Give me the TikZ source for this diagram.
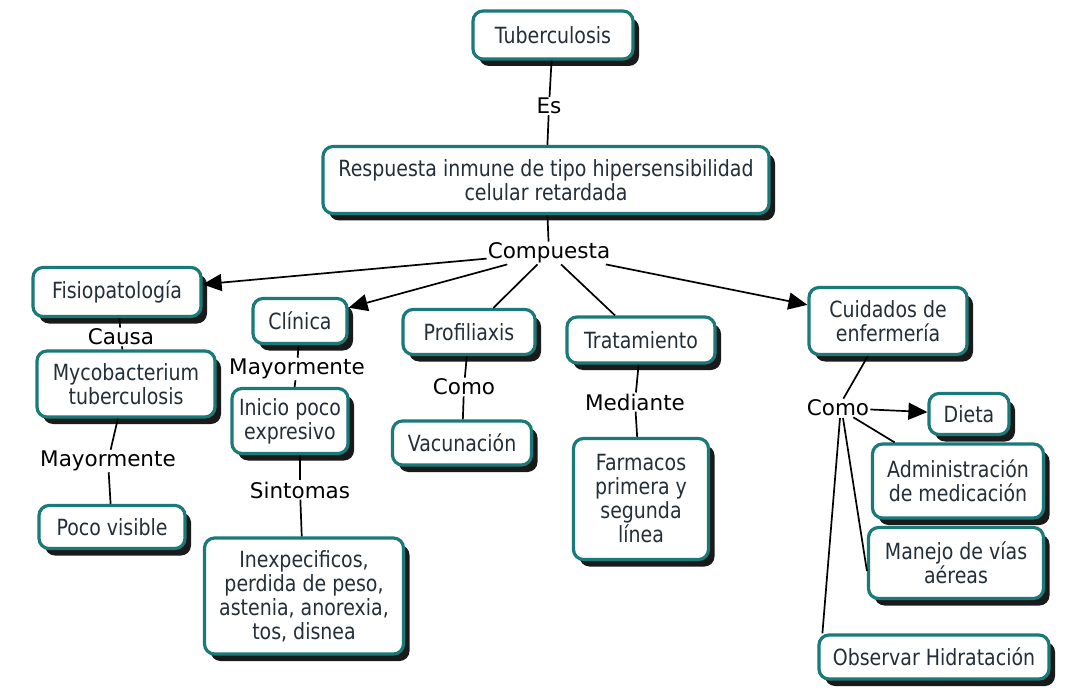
\documentclass[tikz,border=0pt]{standalone}
\usepackage{fontspec}
\usetikzlibrary{arrows.meta,shadows}
\newfontfamily\nodefam[FakeStretch=0.85]{DejaVu Sans}
\newfontfamily\lblfam{DejaVu Sans}
\definecolor{boxteal}{HTML}{1A7A7A}
\definecolor{boxtext}{HTML}{232E38}
\definecolor{shadowc}{HTML}{1A1A1A}
\tikzset{
  cbox/.style={draw=boxteal, line width=3.2pt, rounded corners=10pt, fill=white,
    drop shadow={shadow xshift=6pt, shadow yshift=-7pt, fill=shadowc, opacity=1},
    text=boxtext, font=\nodefam\fontsize{22.3}{24}\selectfont, align=center, inner sep=0pt},
  lbl/.style={font=\lblfam\fontsize{21.5}{24}\selectfont, text=black, inner sep=1pt},
  con/.style={draw=black, line width=1.7pt},
  arr/.style={con, -{Triangle[length=19pt,width=17pt]}},
}
\begin{document}
\begin{tikzpicture}[x=1pt,y=-1pt]
\useasboundingbox (0,0) rectangle (1067,692);
\fill[white] (0,0) rectangle (1067,692);

% concept boxes
\node[cbox, minimum width=160pt, minimum height=48pt] (tub) at (553,35) {Tuberculosis};
\node[cbox, minimum width=446pt, minimum height=67pt] (resp) at (546,180) {Respuesta inmune de tipo hipersensibilidad\\celular retardada};
\node[cbox, minimum width=168pt, minimum height=49pt] (fisio) at (117,292) {Fisiopatología};
\node[cbox, minimum width=94pt, minimum height=45pt] (clin) at (300,321) {Clínica};
\node[cbox, minimum width=132pt, minimum height=45pt] (prof) at (469,332) {Profiliaxis};
\node[cbox, minimum width=148pt, minimum height=46pt] (trat) at (641,340) {Tratamiento};
\node[cbox, minimum width=158pt, minimum height=67pt] (cuid) at (888,321) {Cuidados de\\enfermería};
\node[cbox, minimum width=178pt, minimum height=66pt] (myco) at (126,384) {Mycobacterium\\tuberculosis};
\node[cbox, minimum width=146pt, minimum height=43pt] (poco) at (112,527) {Poco visible};
\node[cbox, minimum width=116pt, minimum height=65pt] (inicio) at (290,421) {Inicio poco\\expresivo};
\node[cbox, minimum width=199pt, minimum height=116pt] (inex) at (304,596) {Inexpecificos,\\perdida de peso,\\astenia, anorexia,\\tos, disnea};
\node[cbox, minimum width=139pt, minimum height=44pt] (vac) at (462,443) {Vacunación};
\node[cbox, minimum width=135pt, minimum height=121pt] (farm) at (641,499) {Farmacos\\primera y\\segunda\\línea};
\node[cbox, minimum width=80pt, minimum height=41pt] (dieta) at (969,414) {Dieta};
\node[cbox, minimum width=171pt, minimum height=74pt] (admin) at (958,481) {Administración\\de medicación};
\node[cbox, minimum width=175pt, minimum height=71pt] (manejo) at (956,563) {Manejo de vías\\aéreas};
\node[cbox, minimum width=230pt, minimum height=44pt] (obs) at (934,657) {Observar Hidratación};

% linking phrases
\node[lbl] (es) at (549,106) {Es};
\node[lbl] (comp) at (549,253) {Compuesta};
\node[lbl] (causa) at (121,337) {Causa};
\node[lbl] (may1) at (108,461) {Mayormente};
\node[lbl] (may2) at (297,369) {Mayormente};
\node[lbl] (sint) at (300,490) {Sintomas};
\node[lbl] (como1) at (464,387) {Como};
\node[lbl] (med) at (635,402) {Mediante};
\node[lbl] (como2) at (838,408) {Como};

% connectors
\draw[con] (tub) -- (es);
\draw[con] (es) -- (resp);
\draw[con] (resp) -- (comp);
\draw[arr] (comp) -- (fisio);
\draw[arr] (comp) -- (clin);
\draw[con] (comp) -- (prof);
\draw[con] (comp) -- (trat);
\draw[arr] (comp) -- (cuid);
\draw[con] (fisio) -- (causa);
\draw[con] (causa) -- (myco);
\draw[con] (myco) -- (may1);
\draw[con] (may1) -- (poco);
\draw[con] (clin) -- (may2);
\draw[con] (may2) -- (inicio);
\draw[con] (inicio.south -| sint) -- (sint);
\draw[con] (sint) -- (inex);
\draw[con] (prof) -- (como1);
\draw[con] (como1) -- (vac);
\draw[con] (trat) -- (med);
\draw[con] (med) -- (farm);
\draw[con] (cuid) -- (como2);
\draw[arr] (como2) -- (dieta);
\draw[con] (como2) -- (admin);
\draw[con] ([shift={(5pt,-10pt)}]como2.center) -- ([yshift=-8pt]manejo.west);
\draw[con] ([shift={(2pt,-10pt)}]como2.center) -- ([xshift=5pt]obs.north west);
\end{tikzpicture}
\end{document}
